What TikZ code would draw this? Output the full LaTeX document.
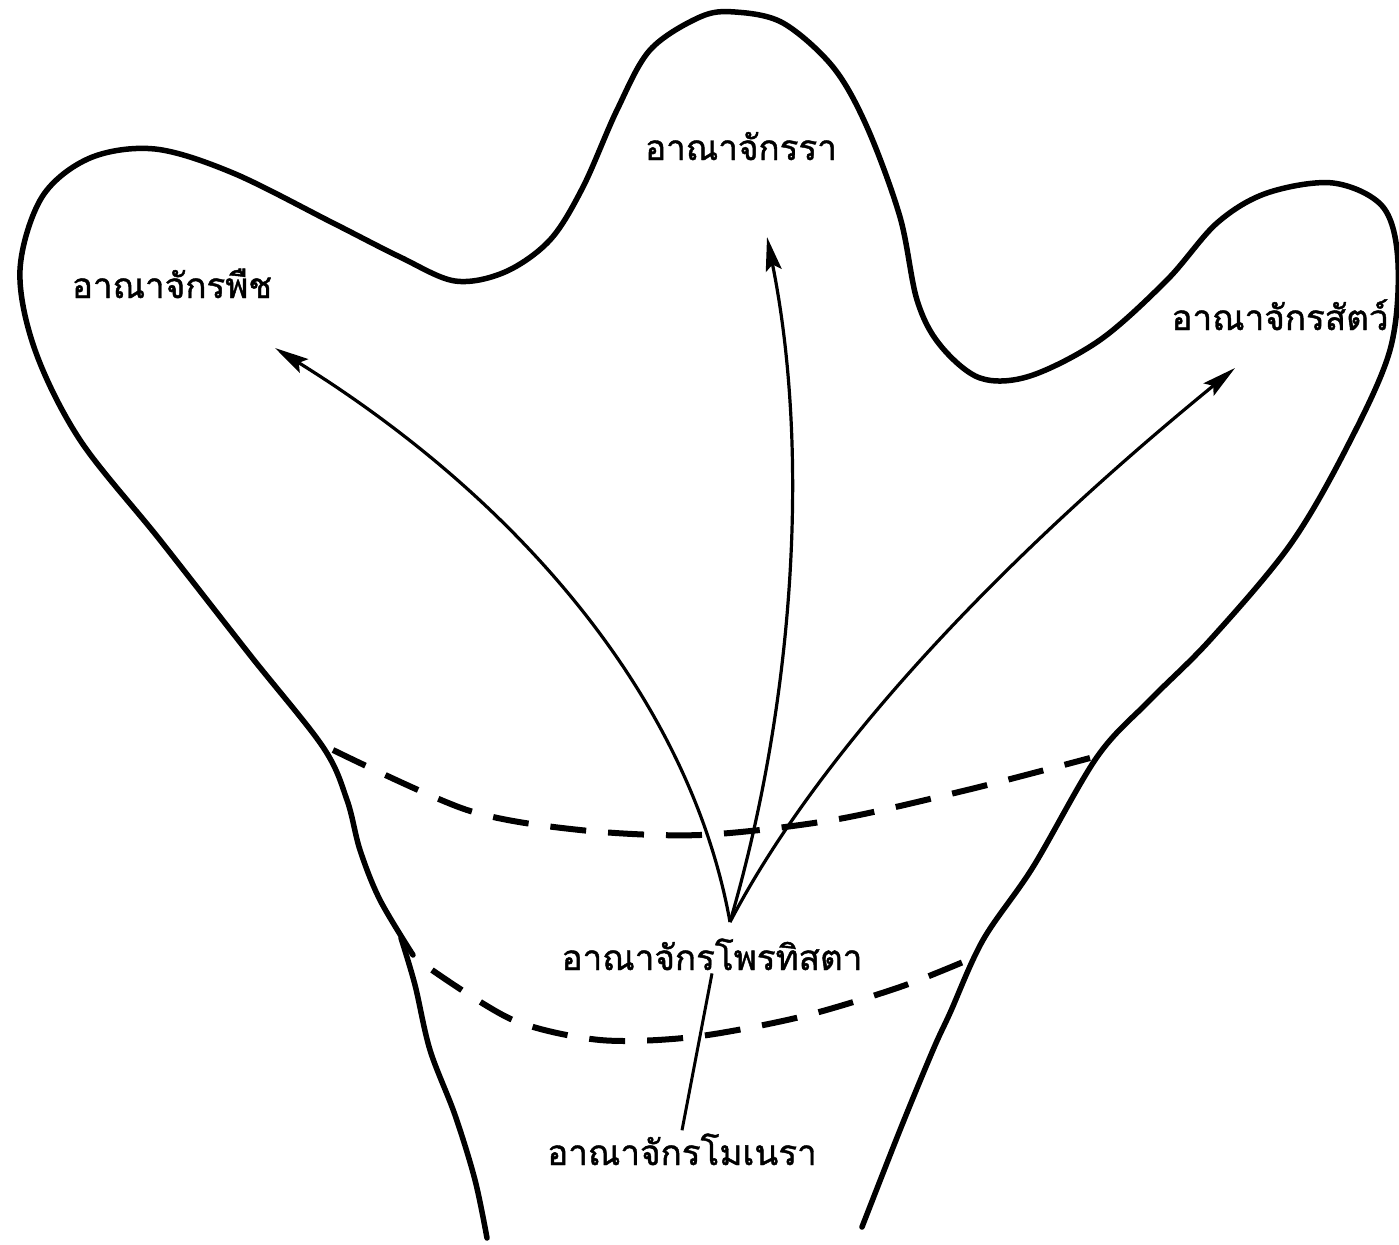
\documentclass[tikz,border=0pt]{standalone}
\usepackage{fontspec}
\newfontfamily\thaifont[Script=Thai,FakeBold=1.2]{Loma}
\usetikzlibrary{arrows.meta}
\tikzset{
  outline/.style={line width=5.5pt, line join=round, line cap=round},
  dashline/.style={line width=6pt, dash pattern=on 36pt off 22pt},
  arr/.style={line width=3.2pt, -{Stealth[length=34pt,width=16pt,inset=6pt]}},
  lab/.style={font=\thaifont\fontsize{35}{42}\selectfont, anchor=base, inner sep=3pt},
  conn/.style={line width=3pt}
}
\begin{document}
\begin{tikzpicture}[x=1pt,y=-1pt]
\useasboundingbox (0,0) rectangle (1399,1244);
% outer outline
\draw[outline] plot[smooth, tension=0.55] coordinates {
 (413,955) (380,900) (360,850) (347,800) (323,747) (250,655) (160,540) (80,440) (35,350) (20,270) (42,197) (90,158) (155,149) (233,173) (333,223) (400,257) (455,281) (505,272) (550,240) (583,187) (617,110) (650,50) (700,17) (735,12) (783,23) (833,67) (867,127) (900,217) (917,300) (940,345) (980,378) (1030,376) (1100,340) (1167,280) (1217,223) (1267,193) (1333,183) (1383,207) (1398,263) (1390,350) (1347,447) (1290,545) (1210,640) (1150,700) (1097,757) (1033,867) (983,940) (950,1013) (933,1050) (900,1130) (862,1227)};
% left lower stem
\draw[outline] plot[smooth, tension=0.55] coordinates {
 (401,938) (415,985) (430,1050) (455,1115) (475,1180) (487,1238)};
% dashed bands
\draw[dashline] plot[smooth] coordinates {
 (333,750) (467,810) (580,830) (700,835) (833,820) (967,790) (1090,758)};
\draw[dashline] plot[smooth] coordinates {
 (432,970) (513,1020) (600,1040) (693,1037) (800,1017) (900,987) (975,957)};
% labels
\node[lab] (plant) at (172,298) {อาณาจักรพืช};
\node[lab] (fungi) at (741,160) {อาณาจักรรา};
\node[lab] (animal) at (1280,330) {อาณาจักรสัตว์};
\node[lab] (prot) at (712,970) {อาณาจักรโพรทิสตา};
\node[lab] (mon) at (682,1165) {อาณาจักรโมเนรา};
% arrows
\coordinate (src) at (730,922);
\coordinate (tipP) at (275,348);
\coordinate (tipF) at (767,237);
\coordinate (tipA) at (1235,368);
\draw[arr] (src) .. controls (690,700) and (520,500) .. (tipP);
\draw[arr] (src) .. controls (795,700) and (810,450) .. (tipF);
\draw[arr] (src) .. controls (820,750) and (1000,560) .. (tipA);
\draw[conn] (prot.south) -- (mon.north);
\end{tikzpicture}
\end{document}
